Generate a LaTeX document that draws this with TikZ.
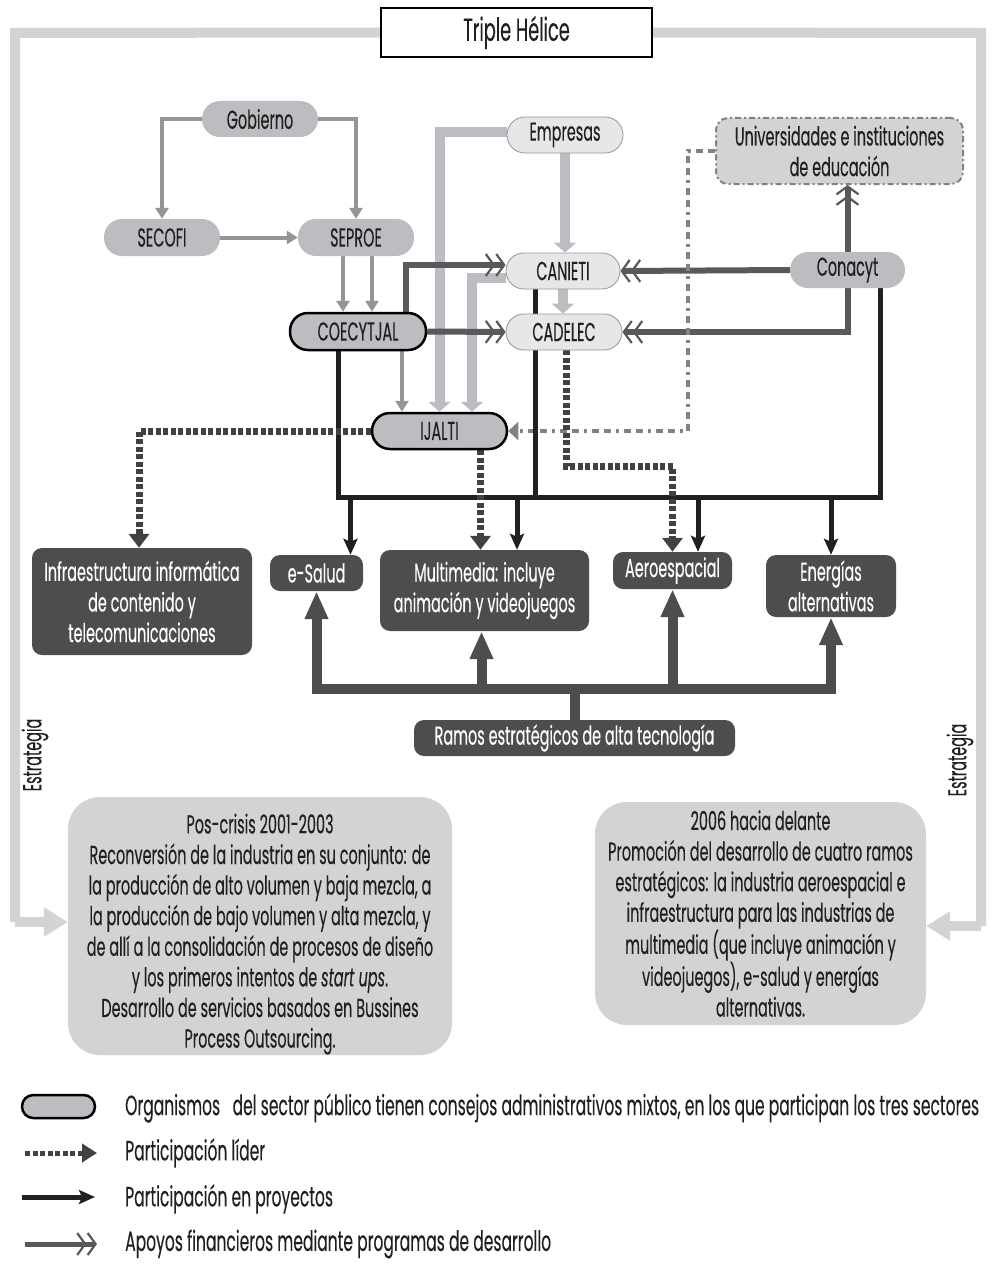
\documentclass[tikz,border=0pt]{standalone}
\usepackage{fontspec}
\setmainfont{Poppins}[FakeStretch=0.555,FakeBold=0.25]
\usetikzlibrary{arrows.meta,calc}
\definecolor{txt}{HTML}{231F20}
\definecolor{frameg}{HTML}{D1D3D4}
\definecolor{pillg}{HTML}{BCBDC0}
\definecolor{midg}{HTML}{939598}
\definecolor{lightg}{HTML}{E6E7E8}
\definecolor{softg}{HTML}{D1D3D4}
\definecolor{dk}{HTML}{58595B}
\definecolor{dashc}{HTML}{808285}
\definecolor{blackc}{HTML}{231F20}
\definecolor{dotc}{HTML}{414042}
\definecolor{darkb}{HTML}{4D4D4F}
\pgfdeclarelayer{bg}
\pgfsetlayers{bg,main}
\tikzset{
  basefont/.style={font=\fontsize{26}{30.6}\selectfont},
  legfont/.style={font=\fontsize{28}{32}\selectfont},
  pill/.style={rounded corners=17.9pt, minimum height=36pt, fill=pillg, inner sep=0pt},
  pubpill/.style={pill, draw=black, line width=2.5pt},
  lpill/.style={pill, fill=lightg, draw=midg, line width=0.8pt},
  darkbox/.style={rounded corners=10pt, fill=darkb, text=white, align=center, inner sep=0pt},
  softbox/.style={rounded corners=32pt, fill=softg, align=center, inner sep=0pt},
  framel/.style={draw=frameg, line width=10pt},
  framearr/.style={framel, -{Triangle[length=24pt,width=28pt]}},
  gthin/.style={draw=midg, line width=4pt, -{Triangle[length=11pt,width=13pt]}},
  lthick/.style={draw=pillg, line width=10pt, -{Triangle[length=10pt,width=22pt]}},
  dfin/.style={draw=dk, line width=6pt, -{Straight Barb[length=8pt,width=22pt,line width=2.2pt]Straight Barb[length=8pt,width=22pt,line width=2.2pt]}},
  dashg/.style={draw=dashc, line width=4pt, dash pattern=on 7pt off 5pt on 7pt off 5pt on 3pt off 5pt, -{Triangle[length=10pt,width=18pt]}},
  blk/.style={draw=blackc, line width=5pt},
  blkarr/.style={blk, -{Stealth[length=16pt,width=14pt,inset=3pt]}},
  dots/.style={draw=dotc, line width=7pt, dash pattern=on 5pt off 2.5pt, -{Triangle[length=14pt,width=20pt]}},
  ramosl/.style={draw=darkb, line width=10pt, -{Triangle[length=28pt,width=22pt]}},
}
\begin{document}
\begin{tikzpicture}[x=1pt,y=-1pt, every node/.style={basefont, text=txt}]
\useasboundingbox (0,0) rectangle (1000,1271);

% ---------- nodes ----------
\node[draw=black, line width=2pt, fill=white, minimum width=271pt, minimum height=49pt, inner sep=0pt, font=\fontsize{32}{36}\selectfont] (th) at (516.5,32.5) {Triple Hélice};

\node[pill, minimum width=116pt] (gob) at (260,119) {Gobierno};
\node[pill, minimum width=116pt, minimum height=37pt] (secofi) at (162,237.5) {SECOFI};
\node[pill, minimum width=116pt, minimum height=37pt] (seproe) at (356,237.5) {SEPROE};
\node[pubpill, minimum width=136pt, minimum height=37pt] (coe) at (358,331.5) {COECYTJAL};
\node[lpill, minimum width=116pt] (emp) at (565,135) {Empresas};
\node[lpill, minimum width=114pt] (canieti) at (563,271) {CANIETI};
\node[lpill, minimum width=116pt] (cadelec) at (564,332) {CADELEC};
\node[pill, minimum width=115pt] (conacyt) at (847.5,270) {Conacyt};
\node[rounded corners=12pt, fill=softg, draw=dashc, line width=2pt, dash pattern=on 6pt off 3pt on 2pt off 3pt, minimum width=247pt, minimum height=66pt, align=center, inner sep=0pt] (univ) at (839.5,151) {Universidades e instituciones\\de educación};
\node[pubpill, minimum width=135pt] (ijalti) at (439.5,431) {IJALTI};

\node[darkbox, minimum width=220pt, minimum height=107pt] (infra) at (142,601.5) {Infraestructura informática\\de contenido y\\telecomunicaciones};
\node[darkbox, minimum width=93pt, minimum height=36pt] (esalud) at (316.5,573) {e-Salud};
\node[darkbox, minimum width=209pt, minimum height=81pt] (mm) at (484.5,590.5) {Multimedia: incluye\\animación y videojuegos};
\node[darkbox, minimum width=119pt, minimum height=37pt] (aero) at (672.5,570.5) {Aeroespacial};
\node[darkbox, minimum width=130pt, minimum height=62pt] (energ) at (831,586) {Energías\\alternativas};
\node[darkbox, minimum width=321pt, minimum height=36pt] (ramos) at (574.5,738) {Ramos estratégicos de alta tecnología};

\node[softbox, minimum width=384pt, minimum height=258pt] (lbox) at (260,926) {\rule{0pt}{36pt}Pos-crisis 2001-2003\\
Reconversión de la industria en su conjunto: de\\
la producción de alto volumen y baja mezcla, a\\
la producción de bajo volumen y alta mezcla, y\\
de allí a la consolidación de procesos de diseño\\
y los primeros intentos de \textit{start ups}.\\
Desarrollo de servicios basados en Bussines\\
Process Outsourcing.};
\node[softbox, minimum width=331pt, minimum height=223pt] (rbox) at (760.5,913.5) {2006 hacia delante\\
Promoción del desarrollo de cuatro ramos\\
estratégicos: la industria aeroespacial e\\
infraestructura para las industrias de\\
multimedia (que incluye animación y\\
videojuegos), e-salud y energías\\
alternativas.};

\node[rotate=90, inner sep=0pt] (estL) at (35,755) {Estrategia};
\node[rotate=90, inner sep=0pt] (estR) at (960,760) {Estrategia};

% legend
\node[pubpill, rounded corners=11.4pt, minimum width=73pt, minimum height=23pt] (legpill) at (58.5,1106.5) {};
\node[legfont, anchor=west, inner sep=0pt] (leg1) at (125,1108) {Organismos\ \ \ del sector público tienen consejos administrativos mixtos, en los que participan los tres sectores};
\node[legfont, anchor=west, inner sep=0pt] (leg2) at (125,1153) {Participación líder};
\node[legfont, anchor=west, inner sep=0pt] (leg3) at (125,1199) {Participación en proyectos};
\node[legfont, anchor=west, inner sep=0pt] (leg4) at (125,1244) {Apoyos financieros mediante programas de desarrollo};
\coordinate (l2a) at (25,1153); \coordinate (l2b) at (97,1153);
\coordinate (l3a) at (22,1197); \coordinate (l3b) at (95,1197);
\coordinate (l4a) at (25,1244); \coordinate (l4b) at (97,1244);

% helper coordinates
\coordinate (fTL) at (15,33);
\coordinate (fBL) at (15,922);
\coordinate (fTR) at (981,33);
\coordinate (fBR) at (981,926);
\coordinate (barL) at (338,497);
\coordinate (barR) at (880,497);
\coordinate (rj) at ($(ramos.north)+(0,-31)$);
\coordinate (cS) at ($(coe.south)+(-20,0)$);
\coordinate (kS) at ($(canieti.south)+(-28,0)$);
\coordinate (nS) at ($(conacyt.south)+(32.5,0)$);
\coordinate (eS) at ($(esalud.north)+(34,0)$);
\coordinate (mS) at ($(mm.north)+(32.5,0)$);
\coordinate (aS) at ($(aero.north)+(25.5,0)$);
\coordinate (iS) at ($(ijalti.south)+(41,0)$);
\coordinate (mB) at ($(mm.south)+(-3,0)$);

% ---------- connectors ----------
\begin{pgfonlayer}{bg}
\draw[framel] (th.west) -- (fTL) -- (fBL);
\draw[framearr] (fBL) -- (fBL -| lbox.west);
\draw[framel] (th.east) -- (fTR) -- (fBR);
\draw[framearr] (fBR) -- (fBR -| rbox.east);

\draw[gthin] (gob.west) -| (secofi.north);
\draw[gthin] (gob.east) -| (seproe.north);
\draw[gthin] (secofi.east) -- (seproe.west);
\draw[gthin] ($(seproe.south)+(-13,0)$) -- ($(coe.north)+(-15,0)$);
\draw[gthin] ($(seproe.south)+(16,0)$) -- ($(coe.north)+(14,0)$);
\draw[gthin] ($(coe.south)+(44,0)$) -- ($(ijalti.north)+(-37.5,0)$);

\draw[lthick] ($(emp.west)+(0,-3)$) -| (ijalti.north);
\draw[lthick] ($(canieti.west)+(0,7)$) -| ($(ijalti.north)+(32.5,0)$);
\draw[lthick] (emp.south) -- (emp.south |- canieti.north);
\draw[lthick] (canieti.south) -- (canieti.south |- cadelec.north);

\draw[dfin] ($(coe.north)+(48,0)$) |- ($(canieti.west)+(0,-6)$);
\draw[dfin] (coe.east) -- (cadelec.west);
\draw[dfin] (conacyt.west) -- (canieti.east);
\draw[dfin] (conacyt.south) |- (cadelec.east);
\draw[dfin] (conacyt.north) -- (conacyt.north |- univ.south);

\draw[dashg] (univ.west) -- ++(-27,0) |- (ijalti.east);

\draw[blk] (cS) |- (barR) -- (nS);
\draw[blk] (kS) -- (kS |- barL);
\draw[blkarr] (eS |- barL) -- (eS);
\draw[blkarr] (mS |- barL) -- (mS);
\draw[blkarr] (aS |- barL) -- (aS);
\draw[blkarr] (energ.north |- barL) -- (energ.north);

\draw[dots] (ijalti.west) -| ($(infra.north)+(-3,0)$);
\draw[dots] (iS) -- (iS |- mm.north);
\draw[dots] ($(cadelec.south)+(2,0)$) -- ++(0,116) -| (aero.north);

\draw[ramosl, -] (ramos.north) -- (rj);
\draw[ramosl] (rj) -| (esalud.south);
\draw[ramosl] (rj) -| (energ.south);
\draw[ramosl] (mB |- rj) -- (mB);
\draw[ramosl] (aero.south |- rj) -- (aero.south);

% legend marks
\draw[dots, line width=5pt, -{Triangle[length=15pt,width=18pt]}] (l2a) -- (l2b);
\draw[blkarr] (l3a) -- (l3b);
\draw[dfin, line width=5pt] (l4a) -- (l4b);
\end{pgfonlayer}
\end{tikzpicture}
\end{document}
